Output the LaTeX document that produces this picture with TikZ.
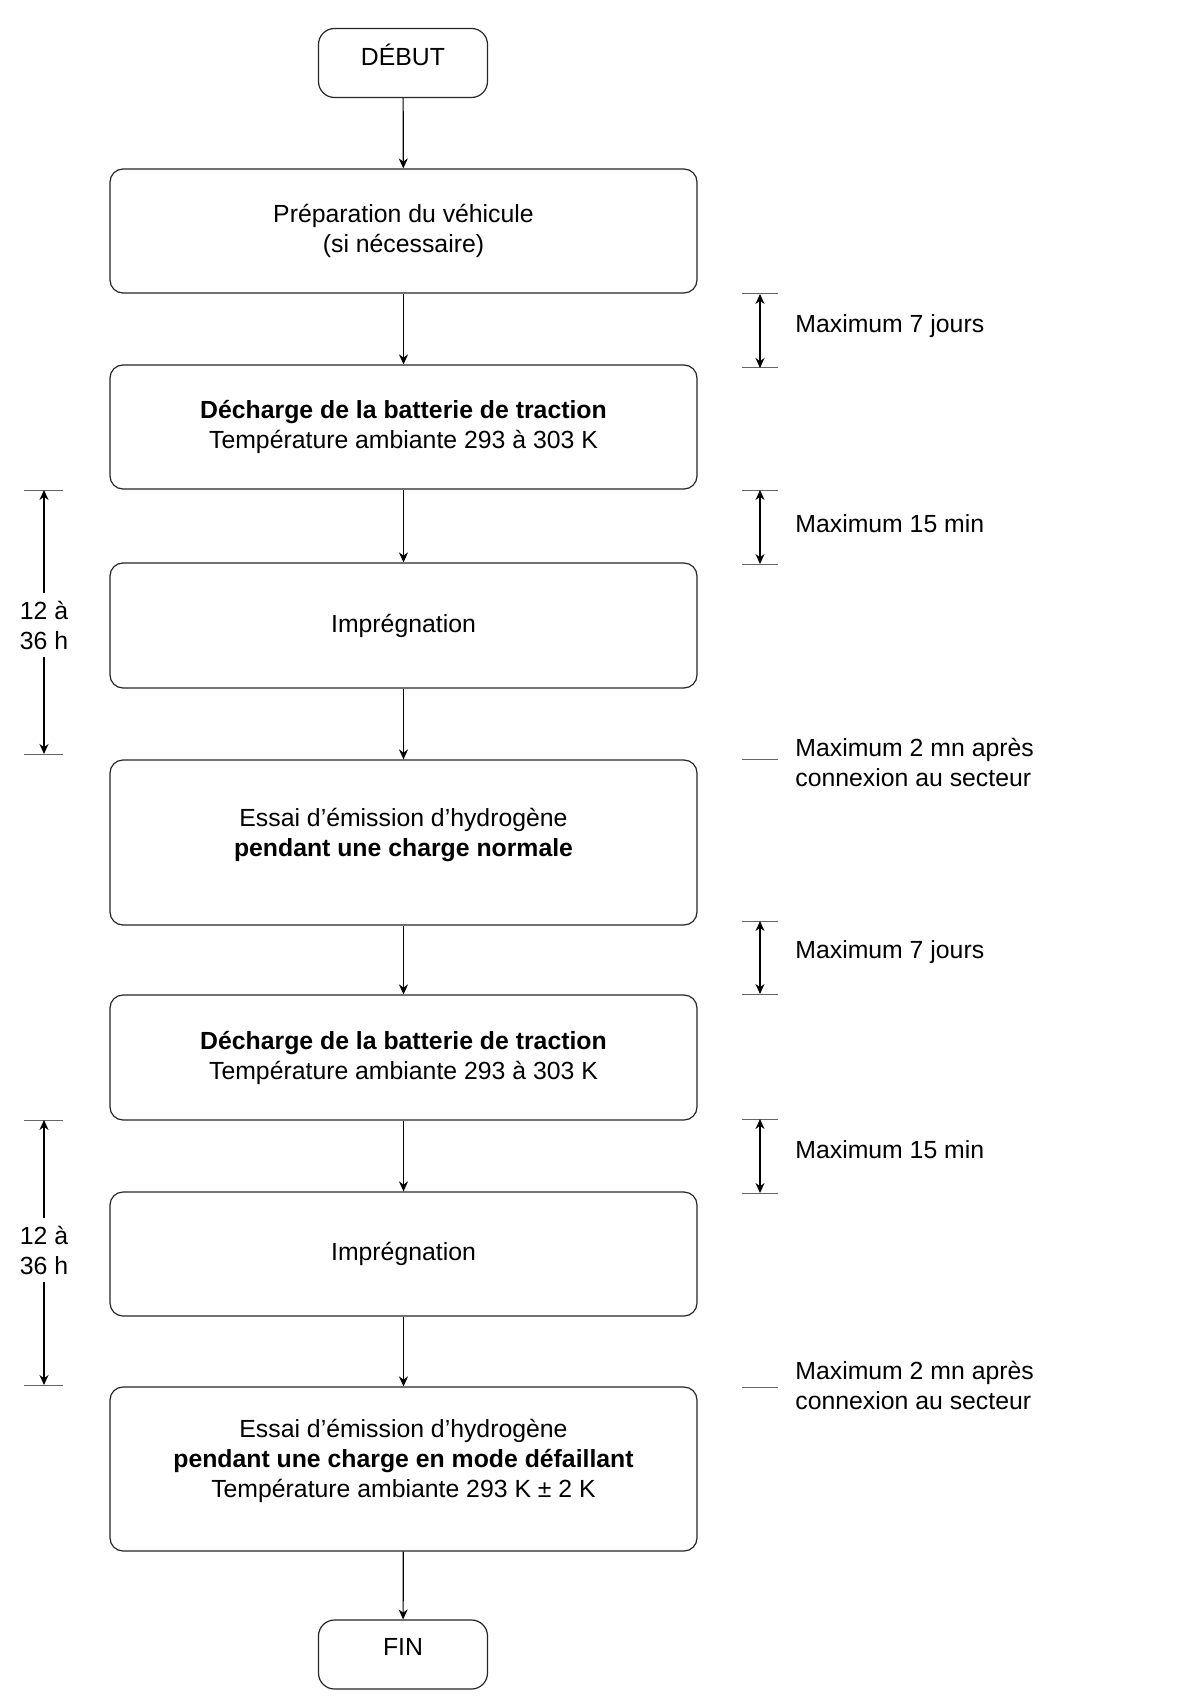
\documentclass[tikz,border=0pt]{standalone}
\usepackage{fontspec}
\setmainfont{Liberation Sans}
\usetikzlibrary{positioning,arrows.meta}

\tikzset{
  etape/.style={draw=black!85, rounded corners=6.5pt, minimum width=293.5pt, align=center, line width=0.6pt},
  terminal/.style={draw=black!85, rounded corners=8pt, minimum width=84.5pt, minimum height=34.5pt, text depth=8pt, line width=0.6pt},
  fleche/.style={-{Stealth[length=5pt,width=4.5pt]}, line width=0.6pt},
  dfleche/.style={{Stealth[length=5pt,width=4.5pt]}-{Stealth[length=5pt,width=4.5pt]}, line width=0.6pt},
  repere/.style={black!60, line width=0.5pt},
  note/.style={anchor=west, align=left, inner sep=0pt},
  duree/.style={align=center, fill=white, inner sep=4pt},
}

\begin{document}
\begin{tikzpicture}[x=0.5pt, y=-0.5pt, font=\fontsize{12.4}{15}\selectfont]
        \path[use as bounding box, fill=white] (0,0) rectangle (1197,1701);

        % etapes
        \node[terminal] (debut) at (403,63) {DÉBUT};
        \node[etape, minimum height=62pt] (prep) at (403.5,231) {Préparation du véhicule\\(si nécessaire)};
        \node[etape, minimum height=62pt] (dech1) at (403.5,427) {\textbf{Décharge de la batterie de traction}\\Température ambiante 293 à 303 K};
        \node[etape, minimum height=62.5pt] (impr1) at (403.5,625.5) {Imprégnation};
        \node[etape, minimum height=82.5pt] (essai1) at (403.5,842.5) {Essai d’émission d’hydrogène\\\textbf{pendant une charge normale}\\[-5pt]};
        \node[etape, minimum height=62.5pt] (dech2) at (403.5,1057.5) {\textbf{Décharge de la batterie de traction}\\Température ambiante 293 à 303 K};
        \node[etape, minimum height=62pt] (impr2) at (403.5,1254) {Imprégnation};
        \node[etape, minimum height=82pt] (essai2) at (403.5,1469) {Essai d’émission d’hydrogène\\\textbf{pendant une charge en mode défaillant}\\Température ambiante 293 K ± 2 K\\[-4pt]};
        \node[terminal] (fin) at (403,1654.5) {FIN};

        % liaisons
        \draw[fleche] (debut) -- (prep);
        \draw[fleche] (prep) -- (dech1);
        \draw[fleche] (dech1) -- (impr1);
        \draw[fleche] (impr1) -- (essai1);
        \draw[fleche] (essai1) -- (dech2);
        \draw[fleche] (dech2) -- (impr2);
        \draw[fleche] (impr2) -- (essai2);
        \draw[fleche] (essai2) -- (fin);

        % durees a droite
        \foreach \haut/\bas in {294/368, 490/564, 921/994, 1119/1193}{
            \draw[repere] (742,\haut) -- (778,\haut);
            \draw[repere] (742,\bas) -- (778,\bas);
            \draw[dfleche] (760,\haut) -- (760,\bas);
        }
        \draw[repere] (742,759) -- (778,759);
        \draw[repere] (742,1387) -- (778,1387);

        \node[note] (max1) at (795,326) {Maximum 7 jours};
        \node[note] (max2) at (795,524) {Maximum 15 min};
        \node[note] (max3) at (795,762) {Maximum 2 mn après\\connexion au secteur};
        \node[note] (max4) at (795,952) {Maximum 7 jours};
        \node[note] (max5) at (795,1150) {Maximum 15 min};
        \node[note] (max6) at (795,1385) {Maximum 2 mn après\\connexion au secteur};

        % durees a gauche
        \foreach \haut/\bas in {490/754, 1120/1385}{
            \draw[repere] (24,\haut) -- (63,\haut);
            \draw[repere] (24,\bas) -- (63,\bas);
            \draw[dfleche] (44,\haut) -- (44,\bas);
        }
        \node[duree] (trempe1) at (44,625) {12 à\\36 h};
        \node[duree] (trempe2) at (44,1250) {12 à\\36 h};
    \end{tikzpicture}
\end{document}
